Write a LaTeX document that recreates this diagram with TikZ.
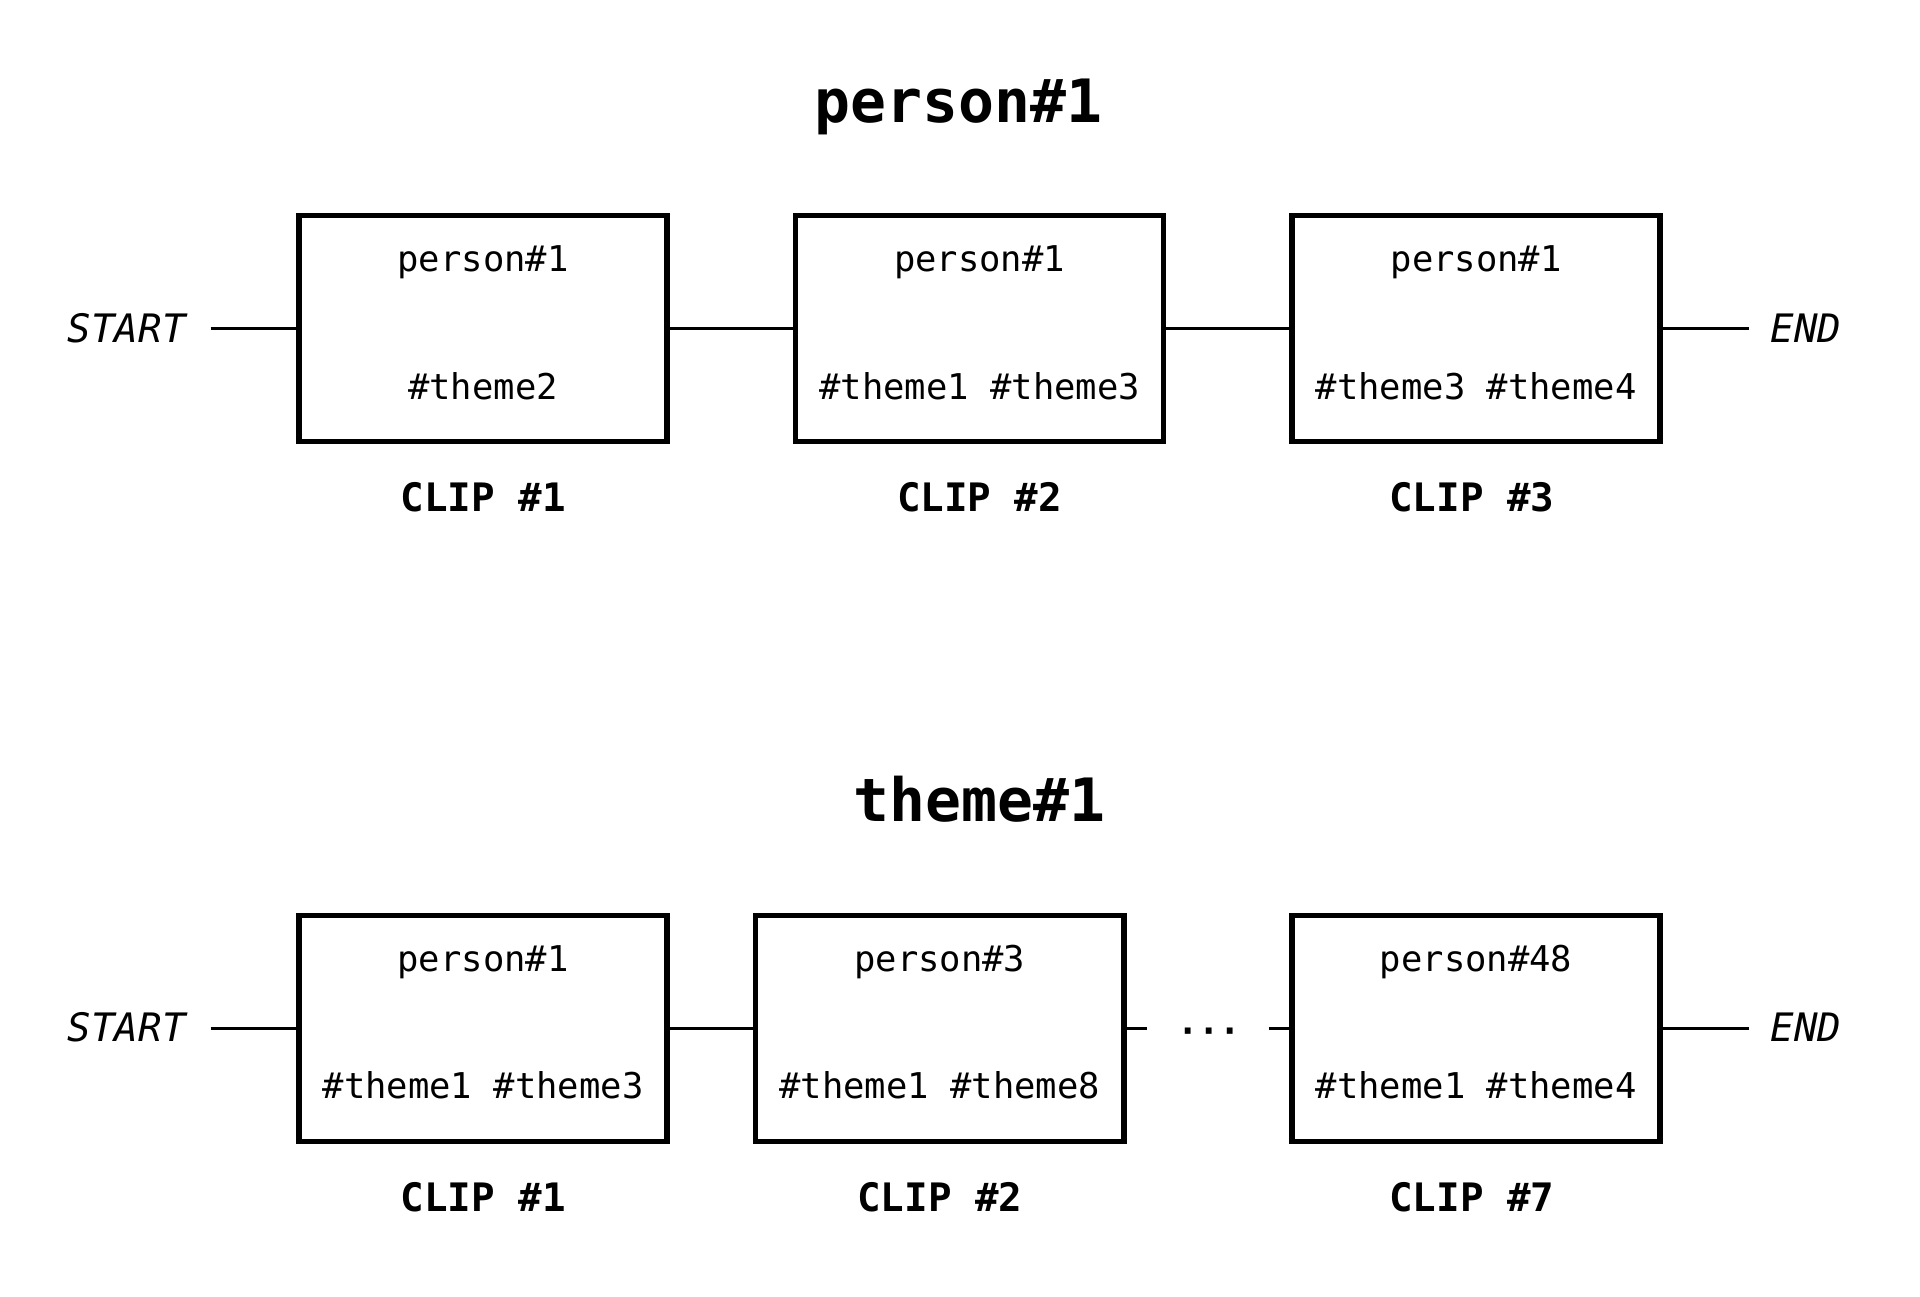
\documentclass[tikz,border=0pt]{standalone}
\usepackage{fontspec}
\setmainfont{DejaVu Sans Mono}
\begin{document}
\begin{tikzpicture}[x=0.5pt,y=-0.5pt,
  clipbox/.style={draw, line width=2.2pt, rectangle, minimum width=150.3pt, minimum height=92.3pt, inner sep=0pt},
  conn/.style={line width=1.1pt},
  intext/.style={anchor=base, inner sep=0pt, font=\fontsize{14.5pt}{16pt}\selectfont},
  cliplab/.style={anchor=base, inner sep=0pt, font=\fontsize{16pt}{18pt}\selectfont\bfseries},
  endlab/.style={inner sep=0pt, font=\fontsize{16pt}{18pt}\selectfont\itshape},
  titlelab/.style={anchor=base, inner sep=0pt, font=\fontsize{24.4pt}{28pt}\selectfont\bfseries}]
\useasboundingbox (0,0) rectangle (1568,1059);
% ---------- top diagram ----------
\node[titlelab] (t1) at (783,100) {person\#1};
\node[endlab] (s1) at (103.5,268) {START};
\node[endlab] (e1) at (1475,268) {END};
\node[clipbox] (a1) at (394.5,268.5) {};
\node[clipbox] (a2) at (800,268.5) {};
\node[clipbox] (a3) at (1205.5,268.5) {};
\coordinate (s1r) at (172,268.5);
\coordinate (e1l) at (1428,268.5);
\draw[conn] (s1r) -- (a1.west);
\draw[conn] (a1.east) -- (a2.west);
\draw[conn] (a2.east) -- (a3.west);
\draw[conn] (a3.east) -- (e1l);
\node[intext] (a1p) at (394.5,222) {person\#1};
\node[intext] (a1t) at (394.5,326) {\#theme2};
\node[intext] (a2p) at (800,222) {person\#1};
\node[intext] (a2t) at (800,326) {\#theme1 \#theme3};
\node[intext] (a3p) at (1205.5,222) {person\#1};
\node[intext] (a3t) at (1205.5,326) {\#theme3 \#theme4};
\node[cliplab] (c1) at (394.5,418) {CLIP \#1};
\node[cliplab] (c2) at (800,418) {CLIP \#2};
\node[cliplab] (c3) at (1202,418) {CLIP \#3};
% ---------- bottom diagram ----------
\node[titlelab] (t2) at (800,671) {theme\#1};
\node[endlab] (s2) at (103.5,839) {START};
\node[endlab] (e2) at (1475,839) {END};
\node[clipbox] (b1) at (394.5,840) {};
\node[clipbox] (b2) at (767.5,840) {};
\node[clipbox] (b3) at (1205.5,840) {};
\coordinate (s2r) at (172,840);
\coordinate (e2l) at (1428,840);
\coordinate (d1) at (937,840);
\coordinate (d2) at (1036,840);
\draw[conn] (s2r) -- (b1.west);
\draw[conn] (b1.east) -- (b2.west);
\draw[conn] (b2.east) -- (d1);
\draw[conn] (d2) -- (b3.west);
\draw[conn] (b3.east) -- (e2l);
\node[inner sep=0pt, font=\fontsize{14.5pt}{16pt}\selectfont\bfseries] (dots) at (987.5,846) {···};
\node[intext] (b1p) at (394.5,793) {person\#1};
\node[intext] (b1t) at (394.5,897) {\#theme1 \#theme3};
\node[intext] (b2p) at (767.5,793) {person\#3};
\node[intext] (b2t) at (767.5,897) {\#theme1 \#theme8};
\node[intext] (b3p) at (1205.5,793) {person\#48};
\node[intext] (b3t) at (1205.5,897) {\#theme1 \#theme4};
\node[cliplab] (k1) at (394.5,989) {CLIP \#1};
\node[cliplab] (k2) at (767.5,989) {CLIP \#2};
\node[cliplab] (k3) at (1202,989) {CLIP \#7};
\end{tikzpicture}
\end{document}
